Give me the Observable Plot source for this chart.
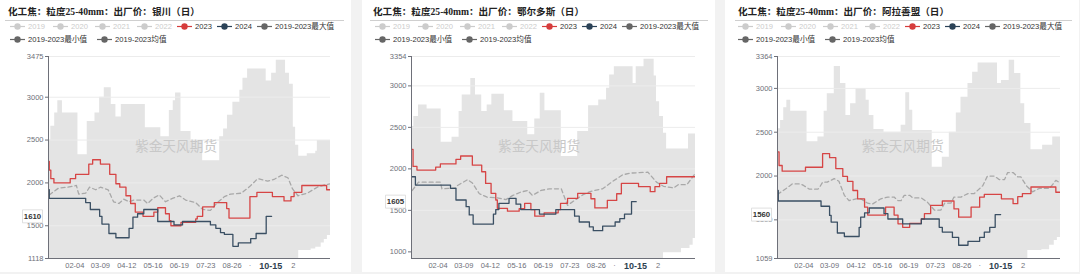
<!DOCTYPE html>
<html><head><meta charset="utf-8">
<script src="https://cdn.jsdelivr.net/npm/d3@7"></script>
<script src="https://cdn.jsdelivr.net/npm/@observablehq/plot@0.6"></script>
<style>
body{margin:0;background:#f2f2f2;width:1080px;height:274px;overflow:hidden;position:relative;font-family:"Liberation Sans","Noto Sans CJK SC",sans-serif;}
.panel{position:absolute;top:0;height:272px;background:#fff;overflow:hidden;}
.title{position:absolute;top:5px;font-weight:bold;font-size:9.6px;font-family:"Liberation Serif","Noto Sans CJK SC",serif;color:#222;white-space:nowrap;line-height:13px;}
.rule{position:absolute;right:7px;top:20px;border-top:1px solid #cfcfcf;}
.item{position:absolute;display:flex;align-items:center;height:13px;font-size:7.6px;line-height:13px;white-space:nowrap;}
.item svg{margin-right:3px;flex:none;}
</style></head>
<body>
<script>
// ---------- shared labels ----------
const legendNames = ["2019","2020","2021","2022","2023","2024","2019-2023最大值","2019-2023最小值","2019-2023均值"];
const legendColors = ["#cccccc","#cccccc","#cccccc","#cccccc","#d63c3c","#2b4257","#666666","#666666","#666666"];
const legendText   = ["#cccccc","#cccccc","#cccccc","#cccccc","#333333","#333333","#333333","#333333","#333333"];
const xTickLabels = ["02-04","03-09","04-12","05-16","06-19","07-23","08-26"];
const hiddenTickLabels = ["09-29","11-02"];   // mostly covered by the current-date label
const currentDateLabel = "10-15";
const watermark = "紫金天风期货";
const titles = ["化工焦：粒度25-40mm：出厂价：银川（日）","化工焦：粒度25-40mm：出厂价：鄂尔多斯（日）","化工焦：粒度25-40mm：出厂价：阿拉善盟（日）"];

// ---------- 银川 (day of year, price) ----------
const ycYTicks = [1118,1500,2000,2500,3000,3475];
const ycMax = [[0,2500],[3,2660],[8,2815],[12,2960],[18,2815],[38,2330],[50,2716],[60,2815],[66,3000],[72,3110],[81,2915],[87,2770],[94,2915],[125,2643],[145,2540],[156,2845],[161,2960],[164,3048],[171,2600],[184,2495],[199,2260],[221,2540],[226,2630],[231,2790],[238,2940],[247,3080],[251,3220],[257,3330],[281,3190],[288,3280],[294,3430],[306,3280],[311,3150],[316,2650],[319,2440],[323,2310],[334,2340],[345,2370],[347,2495],[364,2495]];
const ycMin = [[0,1118],[323,1210],[339,1230],[345,1250],[352,1300],[356,1340],[360,1385],[364,1410]];
const ycAvg = [[1,1860],[7,1900],[13,1940],[24,1950],[36,1970],[39,1870],[48,1880],[53,1950],[61,1920],[67,1950],[77,1920],[84,1780],[91,1760],[97,1810],[104,1780],[110,1800],[123,1800],[128,1760],[135,1820],[143,1860],[151,1780],[160,1820],[169,1850],[177,1800],[190,1770],[199,1690],[209,1680],[218,1770],[227,1840],[235,1870],[249,1880],[260,1960],[270,2050],[283,2020],[291,2040],[301,2090],[309,2060],[315,1930],[322,1850],[334,1880],[347,1950],[358,1980],[364,1990]];
const yc2023 = [[0,2250],[1,2150],[3,2050],[7,2000],[28,2050],[35,2100],[52,2220],[57,2270],[67,2220],[79,2100],[87,1990],[92,1950],[100,1850],[106,1760],[112,1660],[122,1610],[136,1660],[141,1710],[151,1640],[156,1560],[158,1500],[171,1540],[190,1580],[192,1610],[199,1720],[214,1770],[230,1700],[233,1590],[260,1840],[269,1890],[289,1840],[304,1790],[313,1840],[317,1890],[327,1970],[359,1920],[364,1920]];
const yc2024 = [[0,1920],[1,1820],[48,1770],[54,1690],[66,1610],[69,1520],[78,1410],[87,1360],[104,1470],[109,1600],[115,1640],[123,1690],[141,1550],[162,1510],[173,1550],[209,1510],[216,1470],[222,1420],[227,1400],[238,1260],[245,1300],[261,1350],[268,1410],[281,1610],[288,1610]];

// ---------- 鄂尔多斯 ----------
const edYTicks = [1000,1500,2000,2500,3000,3354];
const edYMin = 920;
const edMax = [[0,2510],[3,2630],[9,2770],[20,2720],[38,2320],[52,2380],[61,2690],[65,2890],[76,3090],[82,2890],[90,2690],[97,2770],[103,2900],[119,2700],[130,2570],[149,2410],[158,2600],[165,2910],[171,2700],[192,2150],[213,2450],[227,2760],[240,2830],[250,2970],[254,3130],[260,3230],[284,3030],[288,3230],[298,3320],[311,3120],[314,2810],[318,2630],[323,2430],[327,2240],[355,2420],[364,2420]];
const edMin = [[0,920],[323,990],[346,1040],[357,1080],[361,1160],[364,1220]];
const edAvg = [[1,1740],[9,1840],[37,1840],[39,1760],[57,1770],[59,1800],[72,1870],[78,1830],[87,1700],[97,1660],[110,1650],[121,1630],[130,1680],[140,1720],[149,1740],[155,1680],[166,1740],[177,1760],[192,1760],[200,1560],[209,1620],[220,1690],[230,1730],[245,1760],[258,1850],[271,1930],[282,1950],[303,1960],[314,1840],[323,1790],[336,1770],[342,1810],[353,1810],[357,1860],[364,1950]];
const ed2023 = [[0,2235],[2,2030],[7,1985],[31,2020],[37,2060],[57,2115],[63,2155],[78,2045],[90,1965],[95,1825],[102,1705],[108,1625],[110,1525],[123,1490],[138,1520],[145,1585],[153,1510],[158,1430],[170,1470],[188,1510],[191,1585],[200,1645],[213,1705],[230,1640],[235,1530],[251,1620],[263,1700],[269,1825],[291,1785],[306,1725],[312,1785],[318,1825],[327,1905],[364,1905]];
const ed2024 = [[0,1905],[5,1805],[50,1765],[57,1625],[70,1545],[74,1445],[79,1335],[105,1455],[108,1510],[112,1585],[125,1645],[134,1575],[140,1510],[164,1455],[185,1510],[209,1430],[215,1360],[228,1300],[233,1255],[245,1310],[261,1360],[267,1400],[273,1455],[282,1605],[288,1605]];

// ---------- 阿拉善盟 ----------
const alYTicks = [1059,1500,2000,2500,3000,3364];
const alMax = [[0,2540],[4,2635],[8,2780],[12,2865],[17,2740],[38,2390],[52,2445],[60,2740],[64,2940],[73,3250],[81,3055],[88,2690],[94,2825],[101,3000],[114,2865],[118,2690],[124,2530],[137,2500],[159,2580],[165,2950],[170,2750],[174,2520],[199,2100],[212,2215],[221,2500],[230,2720],[236,2900],[245,3055],[251,3185],[258,3290],[283,3055],[288,3090],[298,3320],[305,3170],[313,2825],[318,2600],[326,2300],[341,2350],[354,2445],[364,2445]];
const alMin = [[0,1059],[322,1150],[340,1160],[350,1210],[356,1265],[360,1300],[364,1350]];
const alAvg = [[0,1790],[13,1870],[19,1910],[30,1910],[34,1890],[41,1850],[52,1850],[54,1870],[58,1930],[64,1930],[73,1970],[79,1940],[86,1780],[92,1720],[101,1740],[107,1740],[116,1690],[122,1680],[133,1740],[142,1760],[150,1760],[155,1720],[159,1720],[163,1780],[170,1780],[174,1750],[185,1750],[193,1700],[202,1610],[210,1610],[215,1690],[223,1690],[227,1760],[236,1760],[245,1800],[253,1800],[264,1890],[270,2000],[279,2000],[285,1960],[292,1960],[296,2040],[303,2040],[309,1990],[313,1990],[320,1890],[328,1820],[337,1860],[350,1860],[358,1950],[364,1920]];
const al2023 = [[0,2275],[2,2120],[6,2055],[36,2100],[58,2255],[67,2210],[75,2085],[84,1995],[90,1940],[97,1835],[103,1740],[112,1645],[116,1555],[139,1645],[150,1555],[155,1455],[161,1415],[170,1460],[185,1510],[189,1570],[197,1665],[212,1715],[227,1625],[233,1530],[249,1645],[260,1760],[266,1790],[288,1740],[303,1685],[309,1765],[315,1800],[326,1875],[358,1815],[364,1815]];
const al2024 = [[0,1835],[1,1715],[56,1655],[67,1550],[69,1475],[77,1350],[86,1310],[105,1415],[107,1530],[112,1580],[118,1635],[137,1570],[142,1510],[161,1455],[185,1510],[208,1415],[212,1360],[225,1300],[233,1210],[245,1255],[260,1300],[266,1360],[273,1415],[280,1560],[287,1560]];

// ---------- helpers ----------
const dayOf = s => Math.round((Date.parse("2023-" + s + "T00:00:00Z") - Date.UTC(2023,0,1)) / 864e5);
const xTickDays = xTickLabels.map(dayOf);
const labelByDay = new Map(xTickDays.map((d,i) => [d, xTickLabels[i]]));
const rows = a => a.map(([d,v]) => ({d, v}));
const yBox = {draw(c){ c.moveTo(-10,-6.5); c.lineTo(10,-6.5); c.lineTo(10,6.5); c.lineTo(-10,6.5); c.closePath(); }};

const legendSlots = [[0,0],[43,0],[85,0],[127,0],[167,0],[207,0],[247,0],[0,13],[87,13]];

const panels = [
  {left:0, width:351, ml:48, mr:21, tx:8, lx:10, title:titles[0], ticks:ycYTicks, yMin:ycYTicks[0], yMax:ycYTicks[5], max:ycMax, min:ycMin, avg:ycAvg, s23:yc2023, s24:yc2024},
  {left:362, width:353, ml:49, mr:20, tx:11, lx:13, title:titles[1], ticks:edYTicks, yMin:edYMin, yMax:edYTicks[5], max:edMax, min:edMin, avg:edAvg, s23:ed2023, s24:ed2024},
  {left:725, width:354, ml:52, mr:19, tx:13, lx:13, title:titles[2], ticks:alYTicks, yMin:alYTicks[0], yMax:alYTicks[5], max:alMax, min:alMin, avg:alAvg, s23:al2023, s24:al2024}
];

const RED = "#d64545", NAVY = "#3a4f63", AXIS = "#6e7079";

for (const p of panels) {
  const div = document.createElement("div");
  div.className = "panel";
  div.style.left = p.left + "px";
  div.style.width = p.width + "px";
  const legendHTML = legendNames.map((n,i) =>
    `<span class="item" style="left:${p.lx + legendSlots[i][0]}px;top:${19.5 + legendSlots[i][1]}px;color:${legendText[i]}"><svg width="15" height="7"><line x1="0" x2="15" y1="3.5" y2="3.5" stroke="${legendColors[i]}" stroke-width="1.2"/><circle cx="7.5" cy="3.5" r="3.2" fill="${legendColors[i]}"/></svg>${n}</span>`).join("");
  div.innerHTML = `<div class="title" style="left:${p.tx}px">${p.title}</div><div class="rule" style="left:${p.tx - 3}px"></div>${legendHTML}`;
  document.body.appendChild(div);

  const last = p.s24[p.s24.length - 1];
  const plotCx = p.ml + (p.width - p.ml - p.mr) / 2;
  const chart = Plot.plot({
    width: p.width, height: 228,
    marginTop: 10, marginBottom: 16, marginLeft: p.ml, marginRight: p.mr,
    x: {type: "linear", domain: [0, 364], axis: null},
    y: {domain: [p.yMin, p.yMax], axis: null},
    style: {background: "transparent", fontFamily: "Liberation Sans, Noto Sans CJK SC, sans-serif", overflow: "visible"},
    marks: [
      Plot.areaY(rows(p.max), {x: "d", y1: p.yMin, y2: "v", curve: "step-after", fill: "#e4e4e4", clip: true}),
      Plot.areaY(rows(p.min), {x: "d", y1: p.yMin, y2: "v", curve: "step-after", fill: "#ffffff", clip: true}),
      Plot.ruleY(p.ticks.slice(1), {stroke: "#ececec", strokeWidth: 1}),
      Plot.text([watermark], {frameAnchor: "middle", dx: p.width / 2 - plotCx, dy: -11, fontSize: 13.7, fill: "#c8c8c8"}),
      Plot.line(rows(p.avg), {x: "d", y: "v", stroke: "#a8a8a8", strokeWidth: 1.3, strokeDasharray: "4,3", clip: true}),
      Plot.line(rows(p.s23), {x: "d", y: "v", curve: "step-after", stroke: RED, strokeWidth: 1.3, clip: true}),
      Plot.line(rows(p.s24), {x: "d", y: "v", curve: "step-after", stroke: NAVY, strokeWidth: 1.3, clip: true}),
      Plot.ruleX([0], {stroke: AXIS}),
      Plot.ruleY([p.yMin], {stroke: AXIS}),
      Plot.axisY({ticks: p.ticks, label: null, tickSize: 3, tickPadding: 2, fontSize: 7.5, color: AXIS, tickFormat: d => String(d)}),
      Plot.axisX({ticks: xTickDays, label: null, tickSize: 0, tickPadding: 4, fontSize: 7.5, color: AXIS, tickFormat: d => labelByDay.get(d)}),
      // fragments of the two tick labels hidden behind the current-date label
      Plot.text([{d: dayOf(hiddenTickLabels[0]), v: p.yMin}], {x: "d", y: "v", dx: -8.5, dy: 7.5, text: () => "·", fontSize: 7.5, fill: AXIS}),
      Plot.text([{d: dayOf(hiddenTickLabels[1]), v: p.yMin}], {x: "d", y: "v", dx: 8.5, dy: 7.5, text: () => hiddenTickLabels[1].slice(-1), fontSize: 7.5, fill: AXIS}),
      Plot.dot([{d: 0, v: last[1]}], {x: "d", y: "v", dx: -16, symbol: yBox, r: 5, fill: "#fff", stroke: "#d8d8d8", strokeWidth: 0.8}),
      Plot.text([{d: 0, v: last[1]}], {x: "d", y: "v", dx: -16, text: d => String(d.v), fontSize: 7.8, fontWeight: "bold", fill: "#333"}),
      Plot.text([{d: dayOf(currentDateLabel), v: p.yMin}], {x: "d", y: "v", dy: 8, text: () => currentDateLabel, fontSize: 9, fontWeight: "bold", fill: "#2e3f50"})
    ]
  });
  chart.style.position = "absolute";
  chart.style.left = "0px";
  chart.style.top = "46px";
  div.appendChild(chart);
}
</script>
</body></html>
